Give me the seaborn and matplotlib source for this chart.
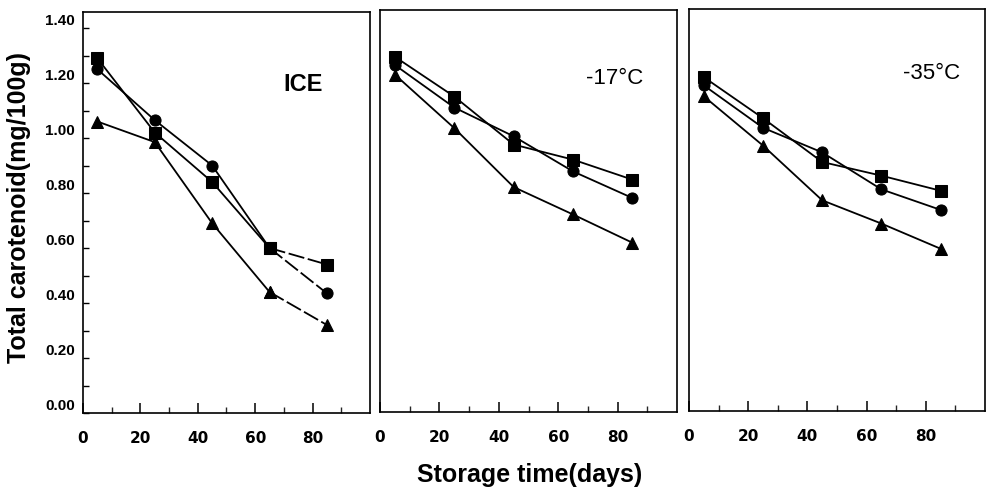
import matplotlib
matplotlib.use("Agg")
import matplotlib.pyplot as plt
from matplotlib.transforms import ScaledTranslation
import seaborn as sns
import pandas as pd

sns.set_theme(style="white")
plt.rcParams['font.family'] = ['Liberation Sans', 'DejaVu Sans']

days = [5, 25, 45, 65, 85]
panels = ["ICE", "-17°C", "-35°C"]
series_names = ["square", "circle", "triangle"]

ice_square = [1.29, 1.02, 0.84, 0.60, 0.54]
ice_circle = [1.25, 1.065, 0.90, 0.60, 0.435]
ice_triangle = [1.06, 0.985, 0.69, 0.44, 0.32]

m17_square = [1.295, 1.15, 0.975, 0.92, 0.847]
m17_circle = [1.265, 1.11, 1.005, 0.877, 0.78]
m17_triangle = [1.23, 1.035, 0.82, 0.72, 0.617]

m35_square = [1.22, 1.07, 0.91, 0.86, 0.805]
m35_circle = [1.19, 1.035, 0.945, 0.81, 0.735]
m35_triangle = [1.15, 0.97, 0.77, 0.685, 0.593]

y_ticks = [0.0, 0.2, 0.4, 0.6, 0.8, 1.0, 1.2, 1.4]
y_ticklabels = ["0.00", "0.20", "0.40", "0.60", "0.80", "1.00", "1.20", "1.40"]
x_ticks = [0, 20, 40, 60, 80]
x_ticklabels = ["0", "20", "40", "60", "80"]

values = {
    "ICE": [ice_square, ice_circle, ice_triangle],
    "-17°C": [m17_square, m17_circle, m17_triangle],
    "-35°C": [m35_square, m35_circle, m35_triangle],
}

rows = []
for p in panels:
    for s, vals in zip(series_names, values[p]):
        for d, v in zip(days, vals):
            rows.append({"panel": p, "series": s, "day": d, "value": v})
df = pd.DataFrame(rows)

fig = plt.figure(figsize=(9.87, 4.94), dpi=100)
H = 494.0
W = 987.0
boxes = [(83, 370, 12, 413), (380, 677, 10, 412), (689, 985, 9, 411)]
label_pos = [(0.767, 0.82), (0.79, 0.83), (0.82, 0.84)]
marker_map = {"square": "s", "circle": "o", "triangle": "^"}
mk = dict(color="black", legend=False, markersize=8, linewidth=1.3, markeredgecolor="black")

for i, p in enumerate(panels):
    l, r, t, b = boxes[i]
    ax = fig.add_axes([l / W, (H - b) / H, (r - l) / W, (b - t) / H])
    sub = df[df.panel == p]
    if p == "ICE":
        solid = sub[sub.day <= 65]
        last = sub[sub.day >= 65]
        sns.lineplot(data=solid, x="day", y="value", style="series", markers=marker_map,
                     dashes=False, ax=ax, **mk)
        sns.lineplot(data=last, x="day", y="value", style="series", markers=marker_map,
                     dashes={"square": (9, 2), "circle": (9, 2), "triangle": (9, 2)},
                     ax=ax, **mk)
    else:
        sns.lineplot(data=sub, x="day", y="value", style="series", markers=marker_map,
                     dashes=False, ax=ax, **mk)
    ax.set_xlim(0, 100)
    ax.set_ylim(0, (413 - t) / 275.0)
    ax.set_xlabel("")
    ax.set_ylabel("")
    ax.set_xticks(x_ticks)
    ax.set_xticks([10, 30, 50, 70, 90], minor=True)
    ax.set_xticklabels(x_ticklabels, fontsize=11, fontweight="bold",
                       family=["DejaVu Sans"])
    ax.tick_params(axis="x", which="major", direction="in", length=7, width=1.1,
                   pad=13, bottom=True, colors="black")
    ax.tick_params(axis="x", which="minor", direction="in", length=4, width=1.0,
                   bottom=True)
    if i == 0:
        ax.set_yticks(y_ticks)
        ax.set_yticks([0.1, 0.3, 0.5, 0.7, 0.9, 1.1, 1.3], minor=True)
        ax.set_yticklabels(y_ticklabels, fontsize=11, fontweight="bold")
        ax.tick_params(axis="y", which="both", direction="in", length=4, width=1.0,
                       left=True, pad=6, colors="black")
        for lab in ax.get_yticklabels():
            lab.set_transform(lab.get_transform() + ScaledTranslation(0, 9 / 100.0, fig.dpi_scale_trans))
    else:
        ax.set_yticks([])
    for sp in ax.spines.values():
        sp.set_color("black")
        sp.set_linewidth(1.2)
        sp.set_visible(True)
    lx, ly = label_pos[i]
    ax.text(lx, ly, p, transform=ax.transAxes, ha="center", va="center",
            fontsize=17 if p == "ICE" else 16,
            fontweight="bold" if p == "ICE" else "normal", color="black")

fig.text(19 / W, (H - 207) / H, "Total carotenoid(mg/100g)", rotation=90, ha="center",
         va="center", fontsize=18, fontweight="bold", color="black")
fig.text(530 / W, (H - 475) / H, "Storage time(days)", ha="center", va="center",
         fontsize=18, fontweight="bold", color="black")

fig.savefig("out.png", dpi=100, facecolor="white")
